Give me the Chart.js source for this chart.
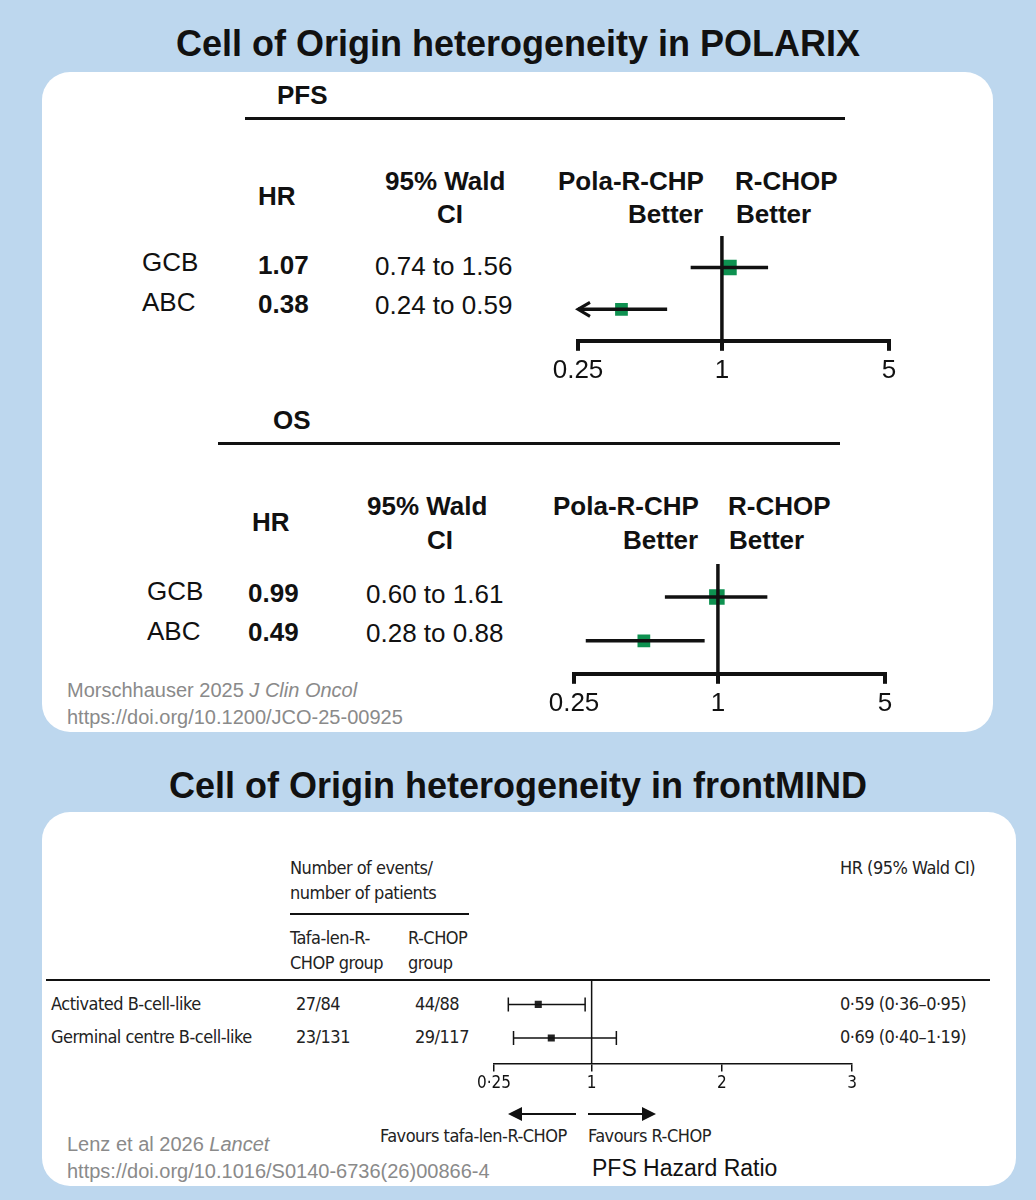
<!DOCTYPE html>
<html>
<head>
<meta charset="utf-8">
<script src="https://cdn.jsdelivr.net/npm/chart.js@4"></script>
<style>
body { margin:0; width:1036px; height:1200px; background:#bdd7ee; position:relative; font-family:"Liberation Sans", Arial, sans-serif; overflow:hidden; }
.t { position:absolute; white-space:nowrap; color:#111; }
.title { font-weight:bold; font-size:36px; width:1036px; text-align:center; left:0; }
.panel { position:absolute; background:#fff; border-radius:28px; }
.h { font-size:26px; font-weight:bold; }
.r { font-size:26px; }
.rule { position:absolute; background:#111; }
.n { font-family:"DejaVu Sans Condensed",sans-serif; font-size:18px; color:#222; letter-spacing:-0.5px; }
.grey { color:#8a8a8a; font-size:20px; }
canvas { position:absolute; }
</style>
</head>
<body>
<div class="t title" style="top:23px">Cell of Origin heterogeneity in POLARIX</div>
<div class="panel" style="left:42px;top:72px;width:951px;height:660px"></div>
<div class="t title" style="top:765px">Cell of Origin heterogeneity in frontMIND</div>
<div class="panel" style="left:42px;top:812px;width:974px;height:374px"></div>

<!-- PFS block -->
<div class="t h" style="left:277px;top:80px">PFS</div>
<div class="rule" style="left:245px;top:117px;width:600px;height:3px"></div>
<div class="t h" style="left:258px;top:181px">HR</div>
<div class="t h" style="left:385px;top:166px">95% Wald</div>
<div class="t h" style="left:437px;top:199px">CI</div>
<div class="t h" style="left:558px;top:166px">Pola-R-CHP</div>
<div class="t h" style="left:628px;top:199px">Better</div>
<div class="t h" style="left:735px;top:166px">R-CHOP</div>
<div class="t h" style="left:736px;top:199px">Better</div>
<div class="t r" style="left:142px;top:247px">GCB</div>
<div class="t h" style="left:258px;top:250px">1.07</div>
<div class="t r" style="left:375px;top:251px">0.74 to 1.56</div>
<div class="t r" style="left:142px;top:287px">ABC</div>
<div class="t h" style="left:258px;top:289px">0.38</div>
<div class="t r" style="left:375px;top:290px">0.24 to 0.59</div>
<canvas id="pfs" style="left:532px;top:225px" width="400" height="165"></canvas>

<!-- OS block -->
<div class="t h" style="left:273px;top:405px">OS</div>
<div class="rule" style="left:218px;top:442px;width:622px;height:3px"></div>
<div class="t h" style="left:252px;top:507px">HR</div>
<div class="t h" style="left:367px;top:491px">95% Wald</div>
<div class="t h" style="left:427px;top:525px">CI</div>
<div class="t h" style="left:553px;top:491px">Pola-R-CHP</div>
<div class="t h" style="left:623px;top:525px">Better</div>
<div class="t h" style="left:728px;top:491px">R-CHOP</div>
<div class="t h" style="left:729px;top:525px">Better</div>
<div class="t r" style="left:147px;top:576px">GCB</div>
<div class="t h" style="left:248px;top:578px">0.99</div>
<div class="t r" style="left:366px;top:579px">0.60 to 1.61</div>
<div class="t r" style="left:147px;top:616px">ABC</div>
<div class="t h" style="left:248px;top:617px">0.49</div>
<div class="t r" style="left:366px;top:618px">0.28 to 0.88</div>
<canvas id="os" style="left:528px;top:553px" width="400" height="170"></canvas>
<div class="t grey" style="left:67px;top:679px">Morschhauser 2025 <i>J Clin Oncol</i></div>
<div class="t grey" style="left:67px;top:706px">https://doi.org/10.1200/JCO-25-00925</div>

<!-- frontMIND -->
<div class="t n" style="left:290px;top:857px">Number of events/</div>
<div class="t n" style="left:290px;top:882px">number of patients</div>
<div class="rule" style="left:290px;top:913px;width:179px;height:2px"></div>
<div class="t n" style="left:290px;top:927px">Tafa-len-R-</div>
<div class="t n" style="left:290px;top:952px">CHOP group</div>
<div class="t n" style="left:408px;top:927px">R-CHOP</div>
<div class="t n" style="left:408px;top:952px">group</div>
<div class="t n" style="left:840px;top:857px">HR (95% Wald CI)</div>
<div class="rule" style="left:46px;top:979px;width:944px;height:2px"></div>
<div class="t n" style="left:51px;top:993px">Activated B-cell-like</div>
<div class="t n" style="left:51px;top:1026px">Germinal centre B-cell-like</div>
<div class="t n" style="left:296px;top:993px">27/84</div>
<div class="t n" style="left:415px;top:993px">44/88</div>
<div class="t n" style="left:296px;top:1026px">23/131</div>
<div class="t n" style="left:415px;top:1026px">29/117</div>
<div class="t n" style="left:840px;top:993px">0·59 (0·36–0·95)</div>
<div class="t n" style="left:840px;top:1026px">0·69 (0·40–1·19)</div>
<canvas id="fm" style="left:470px;top:971px" width="410" height="125"></canvas>
<div class="t n" style="left:380px;top:1125px">Favours tafa-len-R-CHOP</div>
<div class="t n" style="left:588px;top:1125px">Favours R-CHOP</div>
<div class="t" style="left:592px;top:1155px;font-size:23px">PFS Hazard Ratio</div>
<div class="t grey" style="left:67px;top:1133px">Lenz et al 2026 <i>Lancet</i></div>
<div class="t grey" style="left:67px;top:1160px">https://doi.org/10.1016/S0140-6736(26)00866-4</div>

<script>
// POLARIX PFS
var pfsGroups = ['GCB', 'ABC'];
var pfsHR = [1.07, 0.38];
var pfsLo = [0.74, 0.24];
var pfsHi = [1.56, 0.59];
// POLARIX OS
var osGroups = ['GCB', 'ABC'];
var osHR = [0.99, 0.49];
var osLo = [0.60, 0.28];
var osHi = [1.61, 0.88];
var polaTicks = [0.25, 1, 5];
// frontMIND PFS
var fmGroups = ['Activated B-cell-like', 'Germinal centre B-cell-like'];
var fmHR = [0.59, 0.69];
var fmLo = [0.36, 0.40];
var fmHi = [0.95, 1.19];
var fmTicks = [0.25, 1, 2, 3];

var green = '#0e9150';

// arrowhead where a CI runs off the left end of the axis
var arrowPlugin = {
	id: 'arrows',
	afterDatasetsDraw: function (chart, args, opts) {
		var ctx = chart.ctx, xs = chart.scales.x, ys = chart.scales.y;
		ctx.save();
		ctx.strokeStyle = '#111';
		(opts.clipped || []).forEach(function (c) {
			var x = xs.getPixelForValue(xs.min), y = ys.getPixelForValue(c.y);
			ctx.lineWidth = 3;
			ctx.beginPath();
			ctx.moveTo(x + 12, y - 7); ctx.lineTo(x, y); ctx.lineTo(x + 12, y + 7);
			ctx.stroke();
		});
		ctx.restore();
	}
};

function forest(id, hr, lo, hi, ticks, o) {
	var n = hr.length, ds = [], clipped = [];
	for (var i = 0; i < n; i++) {
		var y = n - i;
		var l = lo[i];
		if (l < ticks[0]) { clipped.push({ y: y }); l = ticks[0]; }
		ds.push({
			type: 'line', data: [{ x: l, y: y }, { x: hi[i], y: y }],
			borderColor: '#111', borderWidth: o.ciWidth,
			pointRadius: o.caps ? 7 : 0, pointStyle: 'line', rotation: 90,
			pointBorderColor: '#111', pointBorderWidth: 1.5
		});
		ds.push({
			type: 'scatter', data: [{ x: hr[i], y: y }],
			pointStyle: 'rect', pointRadius: o.sizes[i],
			backgroundColor: o.color, borderColor: o.color, borderWidth: 0
		});
	}
	ds.unshift({
		type: 'line', data: [{ x: 1, y: o.ymin }, { x: 1, y: o.ymax }],
		borderColor: '#111', borderWidth: o.refWidth, pointRadius: 0
	});
	new Chart(document.getElementById(id), {
		type: 'scatter',
		data: { datasets: ds },
		plugins: [arrowPlugin],
		options: {
			responsive: false, animation: false,
			layout: { padding: o.pad },
			plugins: { legend: { display: false }, tooltip: { enabled: false }, arrows: { clipped: clipped } },
			scales: {
				x: {
					type: o.xtype, min: ticks[0], max: ticks[ticks.length - 1],
					afterBuildTicks: function (s) { s.ticks = ticks.map(function (v) { return { value: v }; }); },
					border: { display: true, color: '#111', width: o.axisWidth },
					grid: { drawOnChartArea: false, drawTicks: true, tickLength: o.tickLen, color: '#111', lineWidth: o.axisWidth },
					ticks: {
						color: '#111', autoSkip: false, maxRotation: 0, padding: o.tickPad,
						font: { family: o.font, size: o.fontSize },
						callback: function (v) { return o.fmt ? o.fmt(v) : String(v); }
					}
				},
				y: { min: o.ymin, max: o.ymax, display: false }
			}
		}
	});
}

forest('pfs', pfsHR, pfsLo, pfsHi, polaTicks, {
	xtype: 'logarithmic', ymin: 0.25, ymax: 2.75, color: green, sizes: [11, 9],
	ciWidth: 3.5, refWidth: 3.5, axisWidth: 4, tickLen: 10, tickPad: 4,
	font: 'Liberation Sans', fontSize: 26, pad: { left: 46, right: 43, top: 10, bottom: 0 }
});
forest('os', osHR, osLo, osHi, polaTicks, {
	xtype: 'logarithmic', ymin: 0.25, ymax: 2.75, color: green, sizes: [11, 9],
	ciWidth: 3.5, refWidth: 3.5, axisWidth: 4, tickLen: 10, tickPad: 4,
	font: 'Liberation Sans', fontSize: 26, pad: { left: 46, right: 43, top: 7, bottom: 0 }
});
forest('fm', fmHR, fmLo, fmHi, fmTicks, {
	xtype: 'linear', ymin: 0.24, ymax: 2.74, color: '#222', sizes: [5, 5], caps: true,
	ciWidth: 1.5, refWidth: 1.5, axisWidth: 1.5, tickLen: 8, tickPad: 2,
	font: 'DejaVu Sans Condensed', fontSize: 17, pad: { left: 24, right: 28, top: 8, bottom: 0 },
	fmt: function (v) { return v === 0.25 ? '0·25' : String(v); }
});

// favours arrows under the frontMIND axis
(function () {
	var c = document.createElement('canvas');
	c.width = 300; c.height = 30;
	c.style.left = '500px'; c.style.top = '1099px';
	document.body.appendChild(c);
	var ctx = c.getContext('2d');
	ctx.fillStyle = ctx.strokeStyle = '#111';
	ctx.lineWidth = 2;
	ctx.beginPath(); ctx.moveTo(20, 15); ctx.lineTo(76, 15); ctx.stroke();
	ctx.beginPath(); ctx.moveTo(8, 15); ctx.lineTo(22, 8); ctx.lineTo(22, 22); ctx.fill();
	ctx.beginPath(); ctx.moveTo(88, 15); ctx.lineTo(144, 15); ctx.stroke();
	ctx.beginPath(); ctx.moveTo(156, 15); ctx.lineTo(142, 8); ctx.lineTo(142, 22); ctx.fill();
})();
</script>
</body>
</html>
